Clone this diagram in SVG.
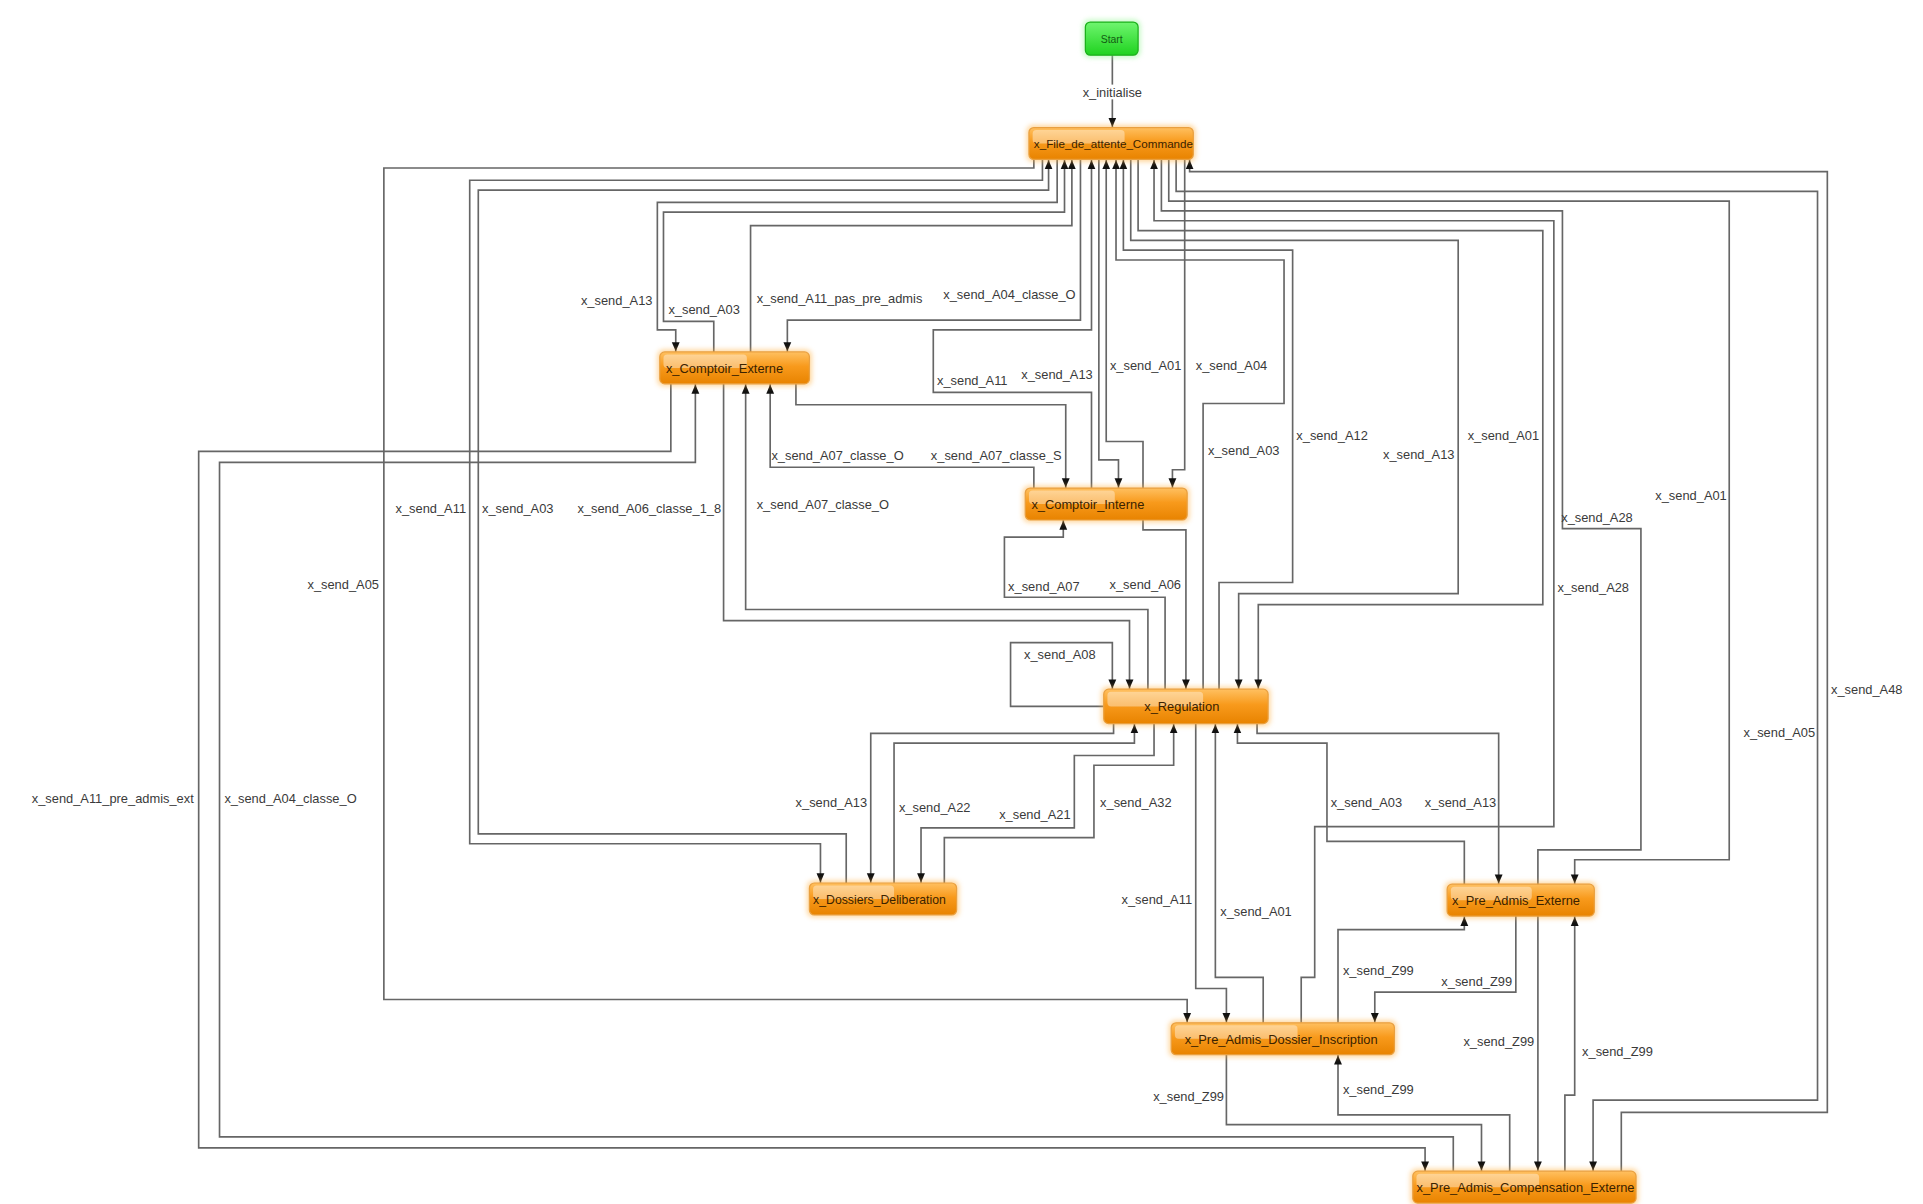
<svg xmlns="http://www.w3.org/2000/svg" width="1923" height="1204" viewBox="0 0 1923 1204">
<style>
.e{fill:none;stroke:#666;stroke-width:1.35;marker-end:url(#ah)}
.n{stroke:#e9a040;stroke-width:1;fill:url(#og)}
.gl{fill:#fff;opacity:0.38}
.nl{font-family:"Liberation Sans",Arial,sans-serif;font-size:10.5px;fill:#3a2200}
.lb{font-family:"Liberation Sans",Arial,sans-serif;font-size:10.5px;fill:#3a3a3a}
</style>
<defs>
<linearGradient id="og" x1="0" y1="0" x2="0" y2="1">
<stop offset="0" stop-color="#ffc060"/>
<stop offset="0.45" stop-color="#f89a1c"/>
<stop offset="1" stop-color="#e88300"/>
</linearGradient>
<linearGradient id="gg" x1="0" y1="0" x2="0" y2="1">
<stop offset="0" stop-color="#6ff56f"/>
<stop offset="1" stop-color="#1fd21f"/>
</linearGradient>
<filter id="halo" x="-20%" y="-60%" width="140%" height="220%">
<feGaussianBlur stdDeviation="2"/>
</filter>
<marker id="ah" markerUnits="userSpaceOnUse" markerWidth="8" markerHeight="8" viewBox="0 0 8 8" refX="8" refY="4" orient="auto">
<path d="M0,0.8 L7.5,4 L0,7.2 z" fill="#111"/>
</marker>
</defs>
<rect width="1923" height="1204" fill="#fff"/>
<g transform="scale(1.2264)">
<g id="connectors">
<polyline class="e" points="907,45 907,104"/>
<polyline class="e" points="843,130 843,137 313,137 313,815 968,815 968,834"/>
<polyline class="e" points="850,130 850,147 383,147 383,688 669,688 669,720"/>
<polyline class="e" points="690,720 690,680 390,680 390,155 855,155 855,130"/>
<polyline class="e" points="862,130 862,165 536,165 536,269 551,269 551,287"/>
<polyline class="e" points="582,287 582,262 541,262 541,173 868,173 868,130"/>
<polyline class="e" points="612,287 612,184 874,184 874,130"/>
<polyline class="e" points="881,130 881,261 642,261 642,287"/>
<polyline class="e" points="890,398 890,320 761,320 761,269 890,269 890,130"/>
<polyline class="e" points="896,130 896,375 912,375 912,398"/>
<polyline class="e" points="932,398 932,360 902,360 902,130"/>
<polyline class="e" points="966,130 966,383 956,383 956,398"/>
<polyline class="e" points="981,562 981,329 1047,329 1047,212 910,212 910,130"/>
<polyline class="e" points="994,562 994,475 1054,475 1054,204 916,204 916,130"/>
<polyline class="e" points="922,130 922,196 1189,196 1189,484 1010,484 1010,562"/>
<polyline class="e" points="928,130 928,188 1258,188 1258,493 1026,493 1026,562"/>
<polyline class="e" points="1061,834 1061,797 1072,797 1072,674 1267,674 1267,180 941,180 941,130"/>
<polyline class="e" points="947,130 947,172 1274,172 1274,431 1338,431 1338,693 1254,693 1254,955"/>
<polyline class="e" points="953,130 953,164 1410,164 1410,701 1284,701 1284,721"/>
<polyline class="e" points="959,130 959,156 1482,156 1482,897 1299,897 1299,955"/>
<polyline class="e" points="1322,955 1322,907 1490,907 1490,140 970,140 970,130"/>
<polyline class="e" points="649,313 649,330 869,330 869,398"/>
<polyline class="e" points="843,398 843,381 628,381 628,313"/>
<polyline class="e" points="547,313 547,368 162,368 162,936 1162,936 1162,955"/>
<polyline class="e" points="1185,955 1185,927 179,927 179,377 567,377 567,313"/>
<polyline class="e" points="590,313 590,506 921,506 921,562"/>
<polyline class="e" points="936,562 936,497 608,497 608,313"/>
<polyline class="e" points="950,562 950,487 819,487 819,438 867,438 867,424"/>
<polyline class="e" points="932,424 932,432 967,432 967,562"/>
<polyline class="e" points="900,576 824,576 824,524 907,524 907,562"/>
<polyline class="e" points="908,590 908,598 710,598 710,720"/>
<polyline class="e" points="729,720 729,606 925,606 925,590"/>
<polyline class="e" points="941,590 941,616 876,616 876,675 751,675 751,720"/>
<polyline class="e" points="770,720 770,683 892,683 892,624 957,624 957,590"/>
<polyline class="e" points="975,590 975,806 1000,806 1000,834"/>
<polyline class="e" points="1030,834 1030,797 991,797 991,590"/>
<polyline class="e" points="1025,590 1025,598 1222,598 1222,721"/>
<polyline class="e" points="1194,721 1194,686 1082,686 1082,606 1009,606 1009,590"/>
<polyline class="e" points="1091,834 1091,758 1194,758 1194,747"/>
<polyline class="e" points="1236,747 1236,809 1121,809 1121,834"/>
<polyline class="e" points="1276,955 1276,893 1284,893 1284,747"/>
<polyline class="e" points="1000,860 1000,917 1208,917 1208,955"/>
<polyline class="e" points="1231,955 1231,909 1091,909 1091,860"/>
</g>
<g id="labels">
<rect x="878" y="69" width="58" height="12" fill="#fff"/>
<text class="lb" x="907" y="79" text-anchor="middle">x_initialise</text>
<text class="lb" x="532" y="249" text-anchor="end">x_send_A13</text>
<text class="lb" x="545" y="256">x_send_A03</text>
<text class="lb" x="617" y="247">x_send_A11_pas_pre_admis</text>
<text class="lb" x="877" y="244" text-anchor="end">x_send_A04_classe_O</text>
<text class="lb" x="764" y="314">x_send_A11</text>
<text class="lb" x="891" y="309" text-anchor="end">x_send_A13</text>
<text class="lb" x="905" y="302">x_send_A01</text>
<text class="lb" x="975" y="302">x_send_A04</text>
<text class="lb" x="629" y="375">x_send_A07_classe_O</text>
<text class="lb" x="759" y="375">x_send_A07_classe_S</text>
<text class="lb" x="985" y="371">x_send_A03</text>
<text class="lb" x="1057" y="359">x_send_A12</text>
<text class="lb" x="1186" y="374" text-anchor="end">x_send_A13</text>
<text class="lb" x="1255" y="359" text-anchor="end">x_send_A01</text>
<text class="lb" x="380" y="418" text-anchor="end">x_send_A11</text>
<text class="lb" x="393" y="418">x_send_A03</text>
<text class="lb" x="588" y="418" text-anchor="end">x_send_A06_classe_1_8</text>
<text class="lb" x="617" y="415">x_send_A07_classe_O</text>
<text class="lb" x="1273" y="426">x_send_A28</text>
<text class="lb" x="1408" y="408" text-anchor="end">x_send_A01</text>
<text class="lb" x="309" y="480" text-anchor="end">x_send_A05</text>
<text class="lb" x="822" y="482">x_send_A07</text>
<text class="lb" x="963" y="480" text-anchor="end">x_send_A06</text>
<text class="lb" x="1270" y="483">x_send_A28</text>
<text class="lb" x="835" y="537">x_send_A08</text>
<text class="lb" x="1493" y="566">x_send_A48</text>
<text class="lb" x="1480" y="601" text-anchor="end">x_send_A05</text>
<text class="lb" x="158" y="655" text-anchor="end">x_send_A11_pre_admis_ext</text>
<text class="lb" x="183" y="655">x_send_A04_classe_O</text>
<text class="lb" x="707" y="658" text-anchor="end">x_send_A13</text>
<text class="lb" x="733" y="662">x_send_A22</text>
<text class="lb" x="873" y="668" text-anchor="end">x_send_A21</text>
<text class="lb" x="897" y="658">x_send_A32</text>
<text class="lb" x="1085" y="658">x_send_A03</text>
<text class="lb" x="1220" y="658" text-anchor="end">x_send_A13</text>
<text class="lb" x="972" y="737" text-anchor="end">x_send_A11</text>
<text class="lb" x="995" y="747">x_send_A01</text>
<text class="lb" x="1095" y="795">x_send_Z99</text>
<text class="lb" x="1233" y="804" text-anchor="end">x_send_Z99</text>
<text class="lb" x="1251" y="853" text-anchor="end">x_send_Z99</text>
<text class="lb" x="1290" y="861">x_send_Z99</text>
<text class="lb" x="998" y="898" text-anchor="end">x_send_Z99</text>
<text class="lb" x="1095" y="892">x_send_Z99</text>
</g>
<g id="n_start"><rect x="883" y="16" width="47" height="31" rx="5" fill="#8ff58f" opacity="0.5" filter="url(#halo)"/><rect x="885" y="18" width="43" height="27" rx="4" fill="url(#gg)" stroke="#1cb01c"/><text x="906.5" y="35" text-anchor="middle" font-family="Liberation Sans, Arial, sans-serif" font-size="8.5" fill="#135c13">Start</text></g>
<g id="n_file"><rect x="837" y="102" width="138" height="30" rx="5" fill="#ffb040" opacity="0.5" filter="url(#halo)"/><rect class="n" x="839" y="104" width="134" height="26" rx="4"/><rect class="gl" x="842" y="106" width="75" height="11" rx="3"/><text class="nl" x="843" y="121" style="font-size:9.5px">x_File_de_attente_Commande</text></g>
<g id="n_comptoir_ext"><rect x="536" y="285" width="126" height="30" rx="5" fill="#ffb040" opacity="0.5" filter="url(#halo)"/><rect class="n" x="538" y="287" width="122" height="26" rx="4"/><rect class="gl" x="541" y="289" width="68" height="11" rx="3"/><text class="nl" x="543" y="304">x_Comptoir_Externe</text></g>
<g id="n_comptoir_int"><rect x="834" y="396" width="136" height="30" rx="5" fill="#ffb040" opacity="0.5" filter="url(#halo)"/><rect class="n" x="836" y="398" width="132" height="26" rx="4"/><rect class="gl" x="839" y="400" width="70" height="11" rx="3"/><text class="nl" x="841" y="415">x_Comptoir_Interne</text></g>
<g id="n_regulation"><rect x="898" y="560" width="138" height="32" rx="5" fill="#ffb040" opacity="0.5" filter="url(#halo)"/><rect class="n" x="900" y="562" width="134" height="28" rx="4"/><rect class="gl" x="903" y="564" width="78" height="12" rx="3"/><text class="nl" x="933" y="580">x_Regulation</text></g>
<g id="n_dossiers"><rect x="658" y="718" width="124" height="30" rx="5" fill="#ffb040" opacity="0.5" filter="url(#halo)"/><rect class="n" x="660" y="720" width="120" height="26" rx="4"/><rect class="gl" x="663" y="722" width="66" height="11" rx="3"/><text class="nl" x="663" y="737" style="font-size:10px">x_Dossiers_Deliberation</text></g>
<g id="n_pre_ext"><rect x="1178" y="719" width="124" height="30" rx="5" fill="#ffb040" opacity="0.5" filter="url(#halo)"/><rect class="n" x="1180" y="721" width="120" height="26" rx="4"/><rect class="gl" x="1183" y="723" width="66" height="11" rx="3"/><text class="nl" x="1184" y="738">x_Pre_Admis_Externe</text></g>
<g id="n_pre_dossier"><rect x="953" y="832" width="186" height="30" rx="5" fill="#ffb040" opacity="0.5" filter="url(#halo)"/><rect class="n" x="955" y="834" width="182" height="26" rx="4"/><rect class="gl" x="958" y="836" width="100" height="11" rx="3"/><text class="nl" x="966" y="851">x_Pre_Admis_Dossier_Inscription</text></g>
<g id="n_pre_comp"><rect x="1150" y="953" width="186" height="30" rx="5" fill="#ffb040" opacity="0.5" filter="url(#halo)"/><rect class="n" x="1152" y="955" width="182" height="26" rx="4"/><rect class="gl" x="1155" y="957" width="100" height="11" rx="3"/><text class="nl" x="1155" y="972">x_Pre_Admis_Compensation_Externe</text></g>
</g>
</svg>
